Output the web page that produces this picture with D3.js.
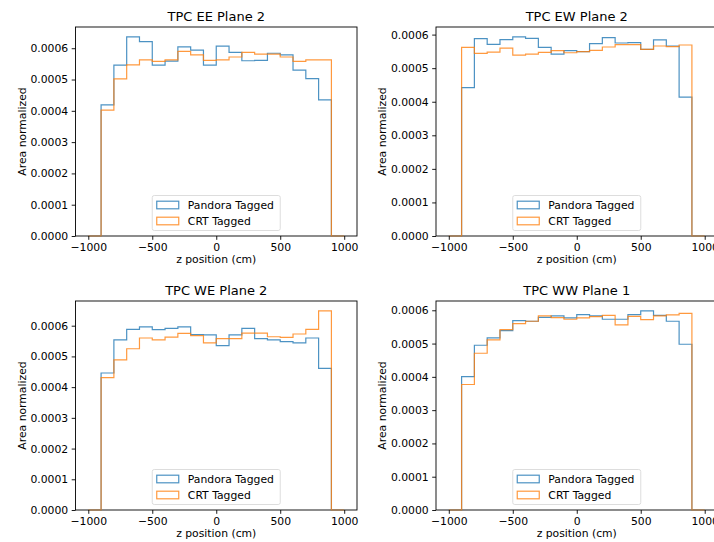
<!DOCTYPE html>
<html lang="en">
<head>
<meta charset="utf-8">
<title>TPC z position</title>
<script src="https://d3js.org/d3.v7.min.js"></script>
<style>
body{margin:0;background:#fff;overflow:hidden;}
svg{display:block;font-family:"DejaVu Sans",sans-serif;}
</style>
</head>
<body>
<script>
// bin edges (cm)
const binEdges = [-1000,-900,-800,-700,-600,-500,-400,-300,-200,-100,0,100,200,300,400,500,600,700,800,900,1000];

const panelTitles = ["TPC EE Plane 2", "TPC EW Plane 2", "TPC WE Plane 2", "TPC WW Plane 1"];
const seriesNames = ["Pandora Tagged", "CRT Tagged"];
const xTicks = [-1000, -500, 0, 500, 1000];
const yTicks = [0, 0.0001, 0.0002, 0.0003, 0.0004, 0.0005, 0.0006];

// bin contents, one per bin (20 bins)
const pandoraEE = [0,0.000419,0.000546,0.000636,0.000621,0.000546,0.000559,0.000604,0.000594,0.000546,0.000607,0.000587,0.000560,0.000561,0.000584,0.000579,0.000530,0.000503,0.000435,0];
const crtEE     = [0,0.000402,0.000502,0.000547,0.000563,0.000558,0.000563,0.000590,0.000579,0.000561,0.000563,0.000572,0.000587,0.000581,0.000581,0.000572,0.000558,0.000563,0.000563,0];

const pandoraEW = [0,0.000442,0.000588,0.000571,0.000585,0.000593,0.000589,0.000562,0.000542,0.000552,0.000549,0.000573,0.000591,0.000575,0.000576,0.000556,0.000584,0.000566,0.000414,0];
const crtEW     = [0,0.000562,0.000544,0.000548,0.000560,0.000539,0.000542,0.000547,0.000552,0.000546,0.000549,0.000553,0.000563,0.000570,0.000570,0.000556,0.000566,0.000564,0.000569,0];

const pandoraWE = [0,0.000446,0.000554,0.000588,0.000596,0.000587,0.000591,0.000596,0.000571,0.000570,0.000535,0.000570,0.000591,0.000558,0.000554,0.000548,0.000544,0.000560,0.000461,0];
const crtWE     = [0,0.000431,0.000489,0.000525,0.000560,0.000554,0.000563,0.000575,0.000568,0.000544,0.000558,0.000558,0.000576,0.000576,0.000564,0.000562,0.000573,0.000588,0.000648,0];

const pandoraWW = [0,0.000401,0.000495,0.000517,0.000539,0.000569,0.000567,0.000579,0.000583,0.000577,0.000587,0.000583,0.000573,0.000573,0.000587,0.000598,0.000585,0.000567,0.000498,0];
const crtWW     = [0,0.000377,0.000471,0.000511,0.000542,0.000560,0.000567,0.000583,0.000578,0.000573,0.000577,0.000581,0.000585,0.000556,0.000582,0.000572,0.000583,0.000586,0.000591,0];

const panelData = [[pandoraEE, crtEE], [pandoraEW, crtEW], [pandoraWE, crtWE], [pandoraWW, crtWW]];
const colors = ["#1f77b4", "#ff7f0e"];

const W = 714, H = 542;
const colX = [75.5, 436];
const rowY = [27, 301];
const pw = 281.5, ph = 209;
const fs = 10.8;

const svg = d3.select("body").append("svg")
	.attr("width", W)
	.attr("height", H);

const fmtX = d => d < 0 ? "\u2212" + Math.abs(d) : String(d);

panelData.forEach(function(series, i) {
	const x0 = colX[i % 2], y0 = rowY[Math.floor(i / 2)];
	const g = svg.append("g").attr("transform", "translate(" + x0 + "," + y0 + ")");

	const x = d3.scaleLinear().domain([-1100, 1100]).range([0, pw]);
	const ymax = d3.max(series, s => d3.max(s)) * 1.05;
	const y = d3.scaleLinear().domain([0, ymax]).range([ph, 0]);

	// frame
	g.append("rect")
		.attr("width", pw).attr("height", ph)
		.attr("fill", "none").attr("stroke", "#000").attr("stroke-width", 0.9);

	// step histograms (drawn over the frame so the zero bins show)
	series.forEach(function(vals, k) {
		const pts = [[binEdges[0], 0]];
		vals.forEach(function(v, j) {
			pts.push([binEdges[j], v]);
			pts.push([binEdges[j + 1], v]);
		});
		pts.push([binEdges[binEdges.length - 1], 0]);
		g.append("path")
			.attr("d", d3.line().x(d => x(d[0])).y(d => y(d[1]))(pts))
			.attr("fill", "none")
			.attr("stroke", colors[k])
			.attr("stroke-opacity", 0.8)
			.attr("stroke-width", 1.2);
	});

	// axes
	const xAxis = g.append("g").attr("transform", "translate(0," + ph + ")")
		.call(d3.axisBottom(x).tickValues(xTicks).tickFormat(fmtX).tickSize(3.8).tickPadding(3.5));
	const yAxis = g.append("g")
		.call(d3.axisLeft(y).tickValues(yTicks).tickFormat(d3.format(".4f")).tickSize(3.8).tickPadding(3.5));
	[xAxis, yAxis].forEach(function(a) {
		a.select(".domain").remove();
		a.selectAll("line").attr("stroke", "#000").attr("stroke-width", 0.9);
		a.selectAll("text").attr("font-size", fs).attr("font-family", "DejaVu Sans").attr("fill", "#000");
	});

	// title and labels
	g.append("text")
		.attr("x", pw / 2).attr("y", -6)
		.attr("text-anchor", "middle")
		.attr("font-size", 13)
		.text(panelTitles[i]);
	g.append("text")
		.attr("x", pw / 2).attr("y", ph + 27)
		.attr("text-anchor", "middle")
		.attr("font-size", fs)
		.text("z position (cm)");
	g.append("text")
		.attr("transform", "translate(-50," + (ph / 2) + ") rotate(-90)")
		.attr("text-anchor", "middle")
		.attr("font-size", fs)
		.text("Area normalized");

	// legend
	const lw = 128, lh = 35;
	const lg = g.append("g").attr("transform", "translate(" + (pw / 2 - lw / 2) + "," + (ph - 5.5 - lh) + ")");
	lg.append("rect")
		.attr("width", lw).attr("height", lh).attr("rx", 2)
		.attr("fill", "#fff").attr("fill-opacity", 0.8)
		.attr("stroke", "#d9d9d9").attr("stroke-width", 0.9);
	seriesNames.forEach(function(name, k) {
		const cy = 9.5 + k * 16;
		lg.append("rect")
			.attr("x", 4.5).attr("y", cy - 3.8)
			.attr("width", 22).attr("height", 7.6)
			.attr("fill", "none")
			.attr("stroke", colors[k]).attr("stroke-opacity", 0.8).attr("stroke-width", 1.2);
		lg.append("text")
			.attr("x", 35.6).attr("y", cy + 3.8)
			.attr("font-size", fs)
			.text(name);
	});
});
</script>
</body>
</html>
